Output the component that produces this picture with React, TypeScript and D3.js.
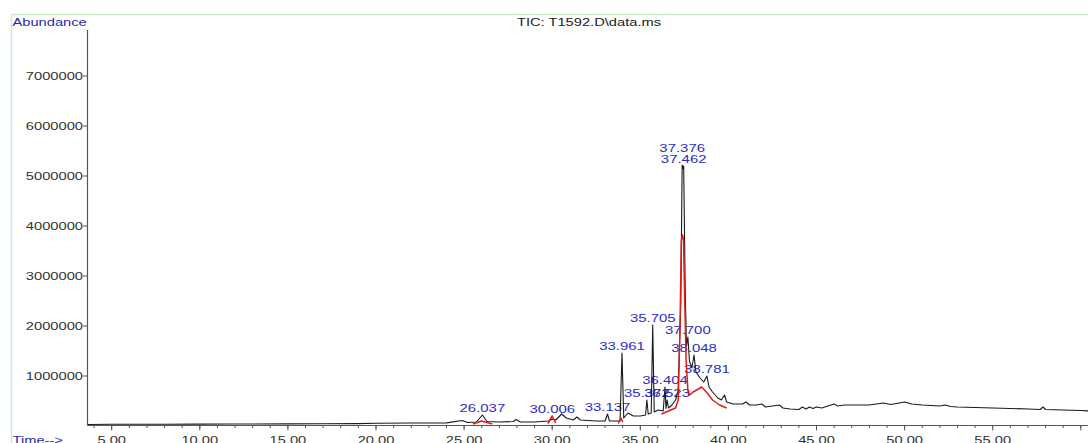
import React from "react";
import * as d3 from "d3";

const WIDTH = 1088;
const HEIGHT = 443;
const FONT = "'Liberation Sans', Arial, sans-serif";
const STRETCH = 1.3; // the picture is stretched sideways

const TITLE = "TIC: T1592.D\\data.ms";
const Y_LABEL = "Abundance";
const X_LABEL = "Time-->";

const Y_TICKS = [1000000, 2000000, 3000000, 4000000, 5000000, 6000000, 7000000];
const X_MAJOR_TICKS = [5, 10, 15, 20, 25, 30, 35, 40, 45, 50, 55, 60];
const X_LABELED_TICKS = [5, 10, 15, 20, 25, 30, 35, 40, 45, 50, 55];
const X_MINOR_TICKS = d3.range(4, 61, 1);

// total ion chromatogram, [time (min), abundance]
const TIC_TRACE: [number, number][] = [
  [3.65, 30000], [5, 35000], [8, 35000], [10, 38000], [12, 40000], [15, 42000],
  [17, 45000], [19, 48000], [20, 55000], [22, 60000], [24, 62000], [24.9, 110000],
  [25.2, 70000], [25.7, 80000], [26.037, 220000], [26.3, 90000], [27, 80000],
  [27.8, 90000], [27.95, 130000], [28.2, 80000], [29, 80000], [29.8, 100000],
  [30.006, 140000], [30.2, 120000], [30.54, 240000], [30.8, 160000], [31.2, 120000],
  [31.4, 180000], [31.6, 120000], [32.5, 100000], [33.0, 100000], [33.137, 240000],
  [33.25, 100000], [33.85, 100000], [33.961, 1460000], [34.06, 160000], [34.3, 260000],
  [34.6, 200000], [35.0, 200000], [35.3, 220000], [35.372, 520000], [35.45, 240000],
  [35.62, 260000], [35.705, 2020000], [35.79, 280000], [36.0, 320000], [36.3, 300000],
  [36.404, 780000], [36.46, 350000], [36.523, 520000], [36.6, 360000], [36.8, 420000],
  [37.0, 520000], [37.15, 720000], [37.3, 2500000], [37.376, 5220000], [37.42, 5150000],
  [37.462, 5200000], [37.55, 2700000], [37.62, 1600000], [37.7, 1780000], [37.79, 1300000],
  [37.93, 1160000], [38.048, 1420000], [38.16, 1080000], [38.39, 960000], [38.6, 880000],
  [38.781, 1000000], [38.9, 780000], [39.1, 680000], [39.4, 560000], [39.6, 520000],
  [39.78, 620000], [39.9, 480000], [40.27, 440000], [40.8, 440000], [41, 480000],
  [41.2, 420000], [41.6, 420000], [41.9, 440000], [42.1, 380000], [42.9, 420000],
  [43.1, 360000], [43.5, 340000], [44, 330000], [44.2, 380000], [44.4, 340000],
  [44.6, 380000], [44.8, 350000], [45, 380000], [45.3, 360000], [46, 440000],
  [46.2, 400000], [46.6, 420000], [47, 420000], [48, 420000], [48.8, 460000],
  [49.2, 430000], [49.7, 460000], [50, 480000], [50.4, 440000], [51, 420000],
  [52, 400000], [52.3, 420000], [52.6, 390000], [53, 380000], [54, 370000],
  [55, 360000], [56, 350000], [57, 340000], [57.7, 330000], [57.85, 380000],
  [58, 330000], [59, 320000], [60, 310000], [60.5, 300000],
];

// red overlay (integrated peaks)
const RED_TRACE: [number, number][][] = [
  [[25.5, 40000], [26.0, 100000], [26.6, 40000]],
  [[29.75, 50000], [30.0, 200000], [30.2, 60000]],
  [[33.75, 50000], [33.9, 160000], [34.0, 80000]],
  [
    [36.2, 240000], [36.6, 300000], [37.0, 360000], [37.15, 520000], [37.25, 1900000],
    [37.33, 3720000], [37.4, 3820000], [37.45, 3720000], [37.52, 2520000], [37.6, 1320000],
    [37.7, 720000], [37.8, 620000], [38.0, 680000], [38.3, 740000], [38.48, 780000],
    [38.8, 660000], [39.1, 520000], [39.5, 420000], [39.9, 360000],
  ],
];

const PEAK_LABELS = [
  "26.037", "30.006", "33.137", "33.961", "35.372", "35.705", "36.404",
  "36.523", "37.376", "37.462", "37.700", "38.048", "38.781",
];

const x = d3.scaleLinear().domain([5, 55]).range([111.7, 992.7]);
const y = d3.scaleLinear().domain([0, 7000000]).range([426, 76]);

const X0 = 87.5;
const Y_BOTTOM = 425.5;
const Y_TOP = 30;

function SText({ x: tx, y: ty, anchor = "start", fill = "#333", size = 11.3, weight = 400, children }: any) {
  return (
    <text
      transform={`translate(${tx},${ty}) scale(${STRETCH},1)`}
      textAnchor={anchor}
      fill={fill}
      style={{ fontFamily: FONT, fontSize: size, fontWeight: weight }}
    >
      {children}
    </text>
  );
}

export default function App() {
  const line = d3
    .line<[number, number]>()
    .x((d) => x(d[0]))
    .y((d) => y(d[1]));

  const allPoints = [...TIC_TRACE, ...RED_TRACE.flat()];
  const labels = PEAK_LABELS.map((label) => {
    const t = +label;
    const apex = d3.max(allPoints.filter((p) => Math.abs(p[0] - t) < 0.03), (p) => p[1]) ?? 0;
    return { label, x: x(t), y: y(apex) - 3 };
  });
  // stack labels of peaks that sit almost on top of each other
  for (let i = labels.length - 2; i >= 0; i--) {
    const a = labels[i];
    const b = labels[i + 1];
    if (Math.abs(a.x - b.x) < 3 && a.y > b.y - 11) a.y = b.y - 11;
  }

  return (
    <svg
      width={WIDTH}
      height={HEIGHT}
      style={{ position: "absolute", left: 0, top: 0, background: "#fff" }}
    >
      {/* frame */}
      <line x1={11.5} x2={WIDTH} y1={14.5} y2={14.5} stroke="#c9efc9" strokeWidth={1.5} />
      <line x1={11.5} x2={11.5} y1={14.5} y2={HEIGHT} stroke="#c9efc9" strokeWidth={1.5} />

      <SText x={12.5} y={26} fill="#2a2aa8">{Y_LABEL}</SText>
      <SText x={589} y={26} anchor="middle" fill="#222">{TITLE}</SText>

      {/* y axis */}
      <line x1={X0} x2={X0} y1={Y_TOP} y2={Y_BOTTOM} stroke="#555" strokeWidth={1.2} />
      {Y_TICKS.map((v) => (
        <g key={v}>
          <line x1={X0 - 4.5} x2={X0} y1={y(v)} y2={y(v)} stroke="#555" strokeWidth={1} />
          <SText x={83} y={y(v) + 4} anchor="end" fill="#333">{String(v)}</SText>
        </g>
      ))}

      {/* x axis */}
      <line x1={X0} x2={WIDTH} y1={Y_BOTTOM} y2={Y_BOTTOM} stroke="#555" strokeWidth={1.2} />
      {X_MINOR_TICKS.map((t) => (
        <line key={t} x1={x(t)} x2={x(t)} y1={Y_BOTTOM} y2={Y_BOTTOM + 2.5} stroke="#555" strokeWidth={1} />
      ))}
      {X_MAJOR_TICKS.map((t) => (
        <line key={t} x1={x(t)} x2={x(t)} y1={Y_BOTTOM} y2={Y_BOTTOM + 5} stroke="#555" strokeWidth={1} />
      ))}
      {X_LABELED_TICKS.map((t) => (
        <SText key={t} x={x(t)} y={444} anchor="middle" fill="#333">{t.toFixed(2)}</SText>
      ))}
      <SText x={12.5} y={444} fill="#2a2aa8">{X_LABEL}</SText>

      {/* peak labels, drawn under the traces */}
      {labels.map((l) => (
        <SText key={l.label} x={l.x} y={l.y} anchor="middle" fill="#2c2cc4" size={11.5} weight={500}>
          {l.label}
        </SText>
      ))}

      <path d={line(TIC_TRACE) ?? ""} fill="none" stroke="#1a1a1a" strokeWidth={1.1} strokeLinejoin="round" />
      {RED_TRACE.map((seg, i) => (
        <path key={i} d={line(seg) ?? ""} fill="none" stroke="#e01b1b" strokeWidth={1.5} strokeLinejoin="round" />
      ))}
    </svg>
  );
}
